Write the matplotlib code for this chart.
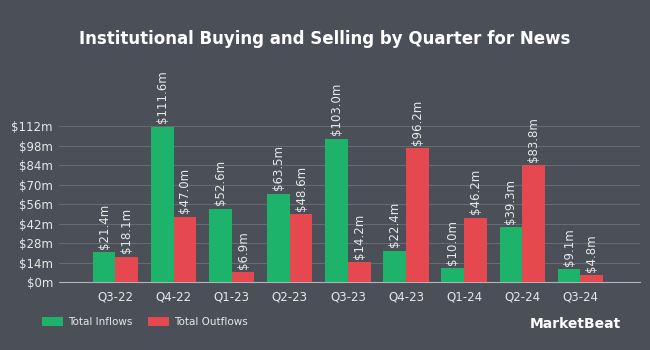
import matplotlib
matplotlib.use("Agg")
import matplotlib.pyplot as plt
import numpy as np

quarters = ["Q3-22", "Q4-22", "Q1-23", "Q2-23", "Q3-23", "Q4-23", "Q1-24", "Q2-24", "Q3-24"]
inflows = [21.4, 111.6, 52.6, 63.5, 103.0, 22.4, 10.0, 39.3, 9.1]
outflows = [18.1, 47.0, 6.9, 48.6, 14.2, 96.2, 46.2, 83.8, 4.8]
yticks = [0, 14, 28, 42, 56, 70, 84, 98, 112]

bg = "#4a4f58"
green = "#1db36b"
red = "#e5484f"
txt = "#e8e8e8"

fig = plt.figure(figsize=(6.5, 3.5), dpi=100, facecolor=bg)
ax = fig.add_axes([0.09, 0.194, 0.895, 0.446], facecolor=bg)

x = np.arange(len(quarters))
w = 0.39
ax.bar(x - w/2, inflows, w, color=green, label="Total Inflows", zorder=3)
ax.bar(x + w/2, outflows, w, color=red, label="Total Outflows", zorder=3)

# value labels above each bar
for xi, v in zip(x - w/2, inflows):
    ax.text(xi, v + 2.5, "$%.1fm" % v, rotation=90, ha="center", va="bottom",
            color=txt, fontsize=8.5, clip_on=False)
for xi, v in zip(x + w/2, outflows):
    ax.text(xi, v + 2.5, "$%.1fm" % v, rotation=90, ha="center", va="bottom",
            color=txt, fontsize=8.5, clip_on=False)

ax.set_xlim(-0.98, 9.03)
ax.set_ylim(0, 112)
ax.set_yticks(yticks)
ax.set_yticklabels(["$%dm" % t for t in yticks])
ax.set_xticks(x)
ax.set_xticklabels(quarters)
ax.grid(axis="y", color="#656a73", linewidth=0.8, zorder=0)
for s in ["top", "right", "left"]:
    ax.spines[s].set_visible(False)
ax.spines["bottom"].set_color("#b0b4ba")
ax.tick_params(axis="both", length=0, colors=txt, labelsize=8.5)
ax.tick_params(axis="x", pad=6)
ax.tick_params(axis="y", pad=4)

fig.text(0.5, 0.89, "Institutional Buying and Selling by Quarter for News",
         ha="center", va="center", color="white", fontsize=12, fontweight="bold")

leg = fig.legend(loc="center left", bbox_to_anchor=(0.05, 0.08), ncol=2, frameon=False,
                 fontsize=7.5, labelcolor=txt, handlelength=2.0, handleheight=0.9,
                 columnspacing=1.5, handletextpad=0.5)

fig.text(0.955, 0.075, "MarketBeat", ha="right", va="center", color="white",
         fontsize=10, fontweight="bold")

fig.savefig("out.png", dpi=100, facecolor=bg)
